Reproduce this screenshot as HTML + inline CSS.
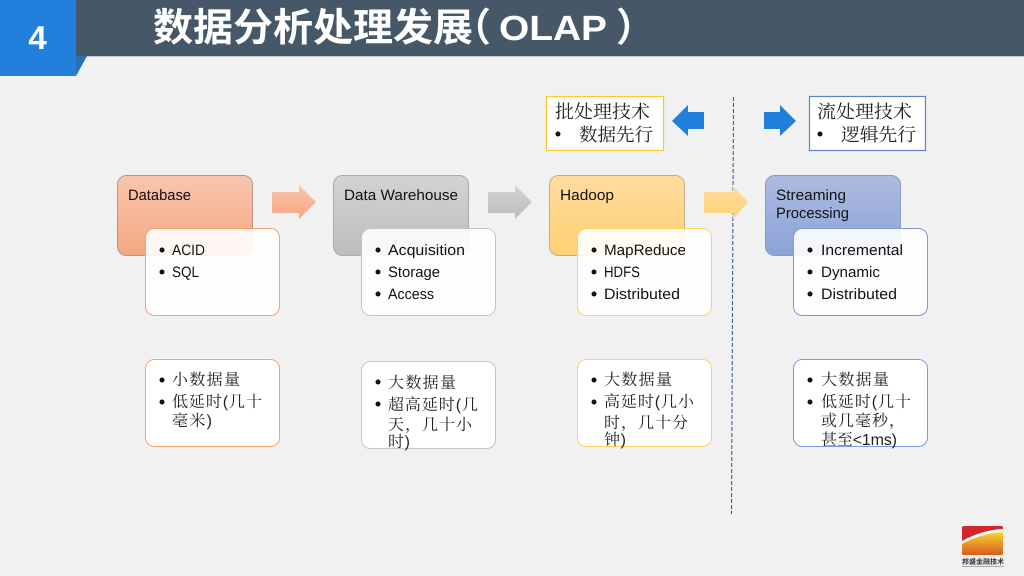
<!DOCTYPE html>
<html lang="zh">
<head>
<meta charset="utf-8">
<title>数据分析处理发展（OLAP）</title>
<style>
html,body{margin:0;padding:0;width:1024px;height:576px;overflow:hidden;background:#f1f1f1}
svg{display:block;text-rendering:geometricPrecision}
.l{font-family:"Liberation Sans",sans-serif;font-size:15px;fill:#111}
.c{font-family:"Liberation Sans","Noto Serif CJK SC",serif;font-size:16px;fill:#222}
.t{font-family:"Liberation Serif","Noto Serif CJK SC",serif;font-size:18.5px;fill:#222}
.h{font-family:"Noto Sans CJK SC","Liberation Sans",sans-serif;font-weight:700;fill:#fff}
.a{font-family:"Liberation Sans",sans-serif;font-weight:700;fill:#fff}
</style>
</head>
<body>
<svg width="1024" height="576" viewBox="0 0 1024 576" xmlns="http://www.w3.org/2000/svg">
<defs>
<linearGradient id="gO" x1="0" y1="0" x2="0" y2="1"><stop offset="0" stop-color="#f9c5ae"/><stop offset="1" stop-color="#f5a782"/></linearGradient>
<linearGradient id="gG" x1="0" y1="0" x2="0" y2="1"><stop offset="0" stop-color="#d3d3d3"/><stop offset="1" stop-color="#bdbdbd"/></linearGradient>
<linearGradient id="gY" x1="0" y1="0" x2="0" y2="1"><stop offset="0" stop-color="#ffdc9f"/><stop offset="1" stop-color="#ffd074"/></linearGradient>
<linearGradient id="gB" x1="0" y1="0" x2="0" y2="1"><stop offset="0" stop-color="#adbbe0"/><stop offset="1" stop-color="#8ba3d8"/></linearGradient>
<linearGradient id="gL" x1="0" y1="0" x2="0" y2="1"><stop offset="0" stop-color="#f3d92e"/><stop offset="1" stop-color="#dc5a1e"/></linearGradient>
</defs>

<rect width="1024" height="576" fill="#f1f1f1"/>
<!-- Header -->
<rect x="0" y="0" width="1024" height="56" fill="#465868"/>
<rect x="76" y="56" width="948" height="1" fill="#c6c8ca"/>
<polygon points="76,56 87,56 76,76" fill="#2a6fb3"/>
<rect x="0" y="0" width="76" height="76" fill="#2280dc"/>
<text class="a" x="37.500" y="49" font-size="33" text-anchor="middle">4</text>
<text class="h" x="153" y="41" font-size="39" textLength="320" lengthAdjust="spacingAndGlyphs">数据分析处理发展</text>
<text class="h" x="452" y="41" font-size="39">（</text>
<text class="a" x="499" y="40" font-size="35" textLength="108" lengthAdjust="spacingAndGlyphs">OLAP</text>
<text class="h" x="616" y="41" font-size="39">）</text>

<!-- Divider -->
<line x1="733.500" y1="97" x2="731.500" y2="514" stroke="#2f4f8f" stroke-width="1" stroke-dasharray="4 2"/>

<!-- Top legend -->
<rect x="546.500" y="96.500" width="117" height="54" fill="#fff" stroke="#ffc72e" stroke-width="1.200"/>
<text class="t" x="555" y="118" textLength="95" lengthAdjust="spacingAndGlyphs">批处理技术</text>
<circle cx="558" cy="134" r="2.500" fill="#111"/>
<text class="t" x="579" y="141" textLength="74" lengthAdjust="spacingAndGlyphs">数据先行</text>
<polygon points="672,121 688,105 688,112 704,112 704,129 688,129 688,136" fill="#2280dc"/>
<polygon points="796,121 780,105 780,112 764,112 764,129 780,129 780,136" fill="#2280dc"/>
<rect x="809.500" y="96.500" width="116" height="54" fill="#fff" stroke="#5b83cc" stroke-width="1.200"/>
<text class="t" x="817" y="118" textLength="95" lengthAdjust="spacingAndGlyphs">流处理技术</text>
<circle cx="820" cy="134" r="2.500" fill="#111"/>
<text class="t" x="841" y="141" textLength="75" lengthAdjust="spacingAndGlyphs">逻辑先行</text>

<!-- Header cards -->
<rect x="117.500" y="175.500" width="135" height="80" rx="9" fill="url(#gO)" stroke="#b0978c"/>
<rect x="333.500" y="175.500" width="135" height="80" rx="9" fill="url(#gG)" stroke="#ababab"/>
<rect x="549.500" y="175.500" width="135" height="80" rx="9" fill="url(#gY)" stroke="#bcae92"/>
<rect x="765.500" y="175.500" width="135" height="80" rx="9" fill="url(#gB)" stroke="#8f9cb8"/>
<text class="l" x="128" y="200" textLength="63" lengthAdjust="spacingAndGlyphs">Database</text>
<text class="l" x="344" y="200" textLength="114" lengthAdjust="spacingAndGlyphs">Data Warehouse</text>
<text class="l" x="560" y="200" textLength="54" lengthAdjust="spacingAndGlyphs">Hadoop</text>
<text class="l" x="776" y="200" textLength="70" lengthAdjust="spacingAndGlyphs">Streaming</text>
<text class="l" x="776" y="218" textLength="73" lengthAdjust="spacingAndGlyphs">Processing</text>

<!-- Arrows -->
<polygon points="272,192 299,192 299,185 316,202 299,219 299,213 272,213" fill="url(#gO)"/>
<polygon points="488,192 515,192 515,185 532,202 515,219 515,213 488,213" fill="url(#gG)"/>
<polygon points="704,192 733,192 733,186 748,202 733,219 733,213 704,213" fill="url(#gY)"/>

<!-- Detail cards -->
<rect x="145.500" y="228.500" width="134" height="87" rx="9" fill="#fff" fill-opacity=".9" stroke="#f4a46f"/>
<rect x="361.500" y="228.500" width="134" height="87" rx="9" fill="#fff" fill-opacity=".9" stroke="#c4c4c4"/>
<rect x="577.500" y="228.500" width="134" height="87" rx="9" fill="#fff" fill-opacity=".9" stroke="#ffd35f"/>
<rect x="793.500" y="228.500" width="134" height="87" rx="9" fill="#fff" fill-opacity=".9" stroke="#7c9bd8"/>

<g fill="#111">
<circle cx="162" cy="250" r="2.500"/><circle cx="162" cy="272" r="2.500"/>
<circle cx="378" cy="250" r="2.500"/><circle cx="378" cy="272" r="2.500"/><circle cx="378" cy="294" r="2.500"/>
<circle cx="594" cy="250" r="2.500"/><circle cx="594" cy="272" r="2.500"/><circle cx="594" cy="294" r="2.500"/>
<circle cx="810" cy="250" r="2.500"/><circle cx="810" cy="272" r="2.500"/><circle cx="810" cy="294" r="2.500"/>
</g>
<text class="l" x="172" y="255" textLength="33" lengthAdjust="spacingAndGlyphs">ACID</text>
<text class="l" x="172" y="277" textLength="27" lengthAdjust="spacingAndGlyphs">SQL</text>
<text class="l" x="388" y="255" textLength="77" lengthAdjust="spacingAndGlyphs">Acquisition</text>
<text class="l" x="388" y="277" textLength="52" lengthAdjust="spacingAndGlyphs">Storage</text>
<text class="l" x="388" y="299" textLength="46" lengthAdjust="spacingAndGlyphs">Access</text>
<text class="l" x="604" y="255" textLength="82" lengthAdjust="spacingAndGlyphs">MapReduce</text>
<text class="l" x="604" y="277" textLength="36" lengthAdjust="spacingAndGlyphs">HDFS</text>
<text class="l" x="604" y="299" textLength="76" lengthAdjust="spacingAndGlyphs">Distributed</text>
<text class="l" x="821" y="255" textLength="82" lengthAdjust="spacingAndGlyphs">Incremental</text>
<text class="l" x="821" y="277" textLength="59" lengthAdjust="spacingAndGlyphs">Dynamic</text>
<text class="l" x="821" y="299" textLength="76" lengthAdjust="spacingAndGlyphs">Distributed</text>

<!-- Bottom cards -->
<rect x="145.500" y="359.500" width="134" height="87" rx="9" fill="#fff" stroke="#f4a46f"/>
<rect x="361.500" y="361.500" width="134" height="87" rx="9" fill="#fff" stroke="#c4c4c4"/>
<rect x="577.500" y="359.500" width="134" height="87" rx="9" fill="#fff" stroke="#ffd35f"/>
<rect x="793.500" y="359.500" width="134" height="87" rx="9" fill="#fff" stroke="#7c9bd8"/>

<g fill="#111">
<circle cx="162" cy="380" r="2.500"/><circle cx="162" cy="402" r="2.500"/>
<circle cx="378" cy="382" r="2.500"/><circle cx="378" cy="404" r="2.500"/>
<circle cx="594" cy="380" r="2.500"/><circle cx="594" cy="402" r="2.500"/>
<circle cx="810" cy="380" r="2.500"/><circle cx="810" cy="402" r="2.500"/>
</g>
<text class="c" x="172" y="385" textLength="68" lengthAdjust="spacing">小数据量</text>
<text class="c" x="172" y="407" textLength="90" lengthAdjust="spacing">低延时(几十</text>
<text class="c" x="172" y="426" textLength="40" lengthAdjust="spacing">毫米)</text>

<text class="c" x="388" y="388" textLength="68" lengthAdjust="spacing">大数据量</text>
<text class="c" x="388" y="410" textLength="90" lengthAdjust="spacing">超高延时(几</text>
<text class="c" x="388" y="430" textLength="84" lengthAdjust="spacing">天，几十小</text>
<text class="c" x="388" y="447" textLength="22" lengthAdjust="spacing">时)</text>

<text class="c" x="604" y="385" textLength="68" lengthAdjust="spacing">大数据量</text>
<text class="c" x="604" y="407" textLength="90" lengthAdjust="spacing">高延时(几小</text>
<text class="c" x="604" y="428" textLength="84" lengthAdjust="spacing">时，几十分</text>
<text class="c" x="604" y="445" textLength="22" lengthAdjust="spacing">钟)</text>

<text class="c" x="821" y="385" textLength="68" lengthAdjust="spacing">大数据量</text>
<text class="c" x="821" y="407" textLength="90" lengthAdjust="spacing">低延时(几十</text>
<text class="c" x="821" y="426" textLength="84" lengthAdjust="spacing">或几毫秒，</text>
<text class="c" x="821" y="445" textLength="76" lengthAdjust="spacing">甚至&lt;1ms)</text>

<!-- Logo -->
<rect x="962" y="526" width="41" height="29" rx="2" fill="#d2282a"/>
<path d="M962 541 Q982 530 1003 529 L1003 555 L962 555 Z" fill="#fff"/>
<path d="M962 544 Q982 533 1003 532 L1003 553 Q1003 555 1001 555 L964 555 Q962 555 962 553 Z" fill="url(#gL)"/>
<text x="962" y="564" font-family="'Liberation Sans','Noto Sans CJK SC',sans-serif" font-size="7" font-weight="700" fill="#333" textLength="42" lengthAdjust="spacingAndGlyphs">邦盛金融技术</text>
<rect x="962" y="566" width="42" height="1" fill="#aaa"/>
</svg>
</body>
</html>
